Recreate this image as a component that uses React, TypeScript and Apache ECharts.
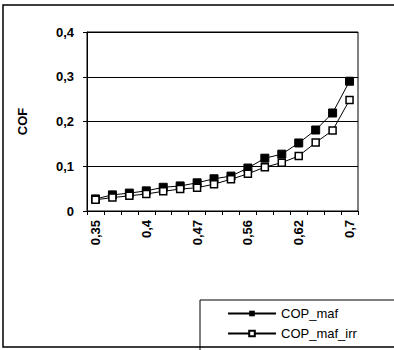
import React, { useEffect, useRef } from "react";
import * as echarts from "echarts";

const categories = ["0.35", "0.37", "0.38", "0.4", "0.42", "0.45", "0.47", "0.5", "0.53", "0.56", "0.58", "0.6", "0.62", "0.65", "0.67", "0.7"];
const copMaf = [0.027, 0.036, 0.040, 0.045, 0.053, 0.056, 0.063, 0.072, 0.078, 0.096, 0.118, 0.127, 0.152, 0.181, 0.219, 0.29];
const copMafIrr = [0.025, 0.030, 0.034, 0.038, 0.044, 0.049, 0.052, 0.060, 0.071, 0.083, 0.098, 0.108, 0.123, 0.153, 0.18, 0.248];
const yTicks = { min: 0, max: 0.4, interval: 0.1 };
const seriesNames = ["COP_maf", "COP_maf_irr"];
const yName = "COF";

const FONT = "Arial, 'Liberation Sans', sans-serif";

export default function App() {
  const ref = useRef<HTMLDivElement>(null);
  useEffect(() => {
    const chart = echarts.init(ref.current!, null, { renderer: "svg" });
    const legendBase = {
      orient: "vertical",
      left: 222,
      itemWidth: 48,
      itemHeight: 7,
      textStyle: { color: "#000", fontSize: 13, fontFamily: FONT },
    };
    chart.setOption({
      animation: false,
      backgroundColor: "#fff",
      grid: { left: 87, right: 36, top: 32, bottom: 139, show: true, borderColor: "#000", borderWidth: 1 },
      xAxis: {
        type: "category",
        data: categories,
        boundaryGap: true,
        axisLine: { lineStyle: { color: "#000", width: 1 } },
        axisTick: { show: true, interval: 0, length: 4, lineStyle: { color: "#000" } },
        axisLabel: {
          interval: 2,
          rotate: 90,
          margin: 9,
          color: "#000",
          fontWeight: "bold",
          fontSize: 13,
          fontFamily: FONT,
          formatter: (v: string) => v.replace(".", ","),
        },
        splitLine: { show: false },
      },
      yAxis: {
        type: "value",
        min: yTicks.min,
        max: yTicks.max,
        interval: yTicks.interval,
        name: yName,
        nameLocation: "middle",
        nameRotate: 90,
        nameGap: 58,
        nameTextStyle: { color: "#000", fontWeight: "bold", fontSize: 13, fontFamily: FONT },
        axisLine: { show: true, lineStyle: { color: "#000", width: 1 } },
        axisTick: { show: true, length: 4, lineStyle: { color: "#000" } },
        axisLabel: {
          margin: 13,
          color: "#000",
          fontWeight: "bold",
          fontSize: 13,
          fontFamily: FONT,
          formatter: (v: number) => (v === 0 ? "0" : String(Math.round(v * 10) / 10).replace(".", ",")),
        },
        splitLine: { show: true, lineStyle: { color: "#000", width: 1 } },
      },
      legend: [
        { ...legendBase, top: 302, data: [seriesNames[0]] },
        { ...legendBase, top: 322, data: [seriesNames[1]] },
      ],
      graphic: [
        { type: "rect", shape: { x: 3, y: 5, width: 400, height: 342 }, style: { fill: "none", stroke: "#000", lineWidth: 1.5 }, silent: true },
        { type: "rect", shape: { x: 200, y: 300, width: 200, height: 60 }, style: { fill: "#fff", stroke: "#000", lineWidth: 1 }, silent: true, z: -1 },
      ],
      series: [
        {
          name: seriesNames[0],
          type: "line",
          data: copMaf,
          symbol: "rect",
          symbolSize: 8,
          lineStyle: { color: "#000", width: 1 },
          itemStyle: { color: "#000", borderColor: "#000" },
        },
        {
          name: seriesNames[1],
          type: "line",
          data: copMafIrr,
          symbol: "rect",
          symbolSize: 7,
          showAllSymbol: true,
          lineStyle: { color: "#000", width: 1 },
          itemStyle: { color: "#fff", borderColor: "#000", borderWidth: 1.5 },
        },
      ],
    });
    return () => chart.dispose();
  }, []);
  return <div ref={ref} style={{ position: "fixed", left: 0, top: 0, width: 394, height: 350 }} />;
}
